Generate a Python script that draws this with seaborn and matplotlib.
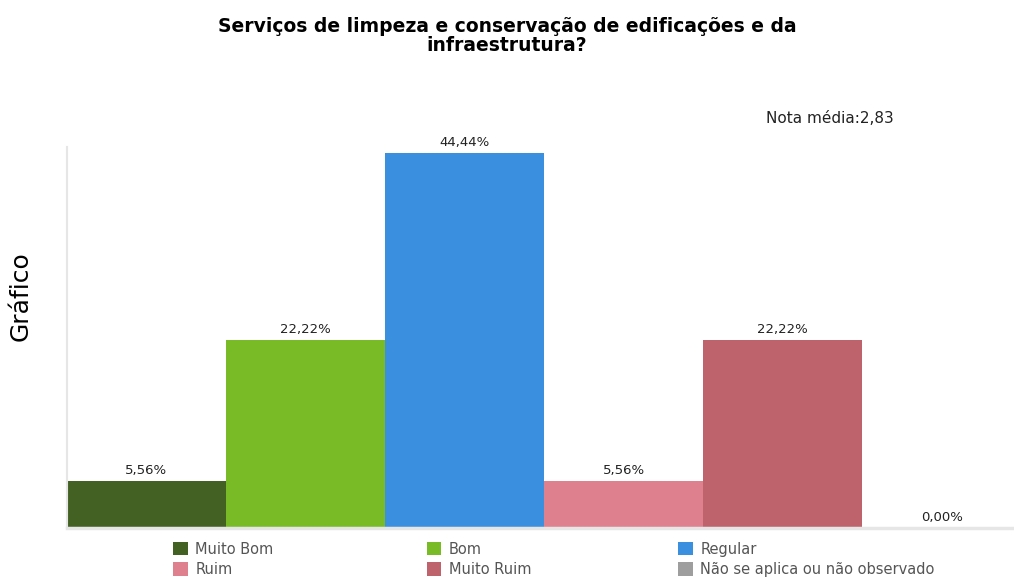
import matplotlib
matplotlib.use("Agg")
import matplotlib.pyplot as plt
from matplotlib.patches import Patch
import seaborn as sns
import pandas as pd

categorias = ["Muito Bom", "Bom", "Regular", "Ruim", "Muito Ruim",
              "Não se aplica ou não observado"]
percentuais = [5.56, 22.22, 44.44, 5.56, 22.22, 0.00]
cores = ["#436123", "#78bb27", "#3a90df", "#df808e", "#be626c", "#9e9e9e"]
titulo = "Serviços de limpeza e conservação de edificações e da\ninfraestrutura?"
nota_media = "Nota média:2,83"

df = pd.DataFrame({"categoria": categorias, "pct": percentuais})

sns.set_style("white")
plt.rcParams["font.family"] = ["DejaVu Sans"]

fig = plt.figure(figsize=(10.14, 5.78), dpi=100)
ax = fig.add_axes([0.066, 0.0865, 0.941, 0.659])

sns.barplot(data=df, x="categoria", y="pct", hue="categoria", palette=cores,
            width=1.0, dodge=False, legend=False, ax=ax, saturation=1,
            edgecolor="none")

for cont in ax.containers:
    ax.bar_label(cont, labels=[f"{v:.2f}%".replace(".", ",") for v in cont.datavalues],
                 padding=3, fontsize=9.5, color="#222222")

ax.set_xlim(-0.5, 5.5)
ax.set_ylim(0, 45.1)
ax.set_xticks([])
ax.set_yticks([])
ax.set_xlabel("")
ax.set_ylabel("Gráfico", fontsize=18, color="black")
ax.yaxis.set_label_coords(-0.0355, 0.61)
for s in ["top", "right"]:
    ax.spines[s].set_visible(False)
ax.spines["left"].set_color("#e6e6e6")
ax.spines["left"].set_linewidth(1.5)
ax.spines["bottom"].set_color("#e6e6e6")
ax.spines["bottom"].set_linewidth(2.5)

fig.text(0.5, 0.97, titulo, ha="center", va="top", fontsize=13.5,
         fontweight="bold", linespacing=0.95, color="black")
fig.text(0.755, 0.795, nota_media, ha="left", va="center", fontsize=11,
         color="#222222")

# legenda em tres colunas, cada uma com duas linhas
colunas_x = [0.158, 0.408, 0.656]
for k, x0 in enumerate(colunas_x):
    idx = [k, k + 3]
    leg = fig.legend([Patch(facecolor=cores[i], edgecolor="none") for i in idx],
                     [categorias[i] for i in idx],
                     loc="lower left", bbox_to_anchor=(x0, -0.021),
                     frameon=False, handlelength=1.0, handleheight=1.0,
                     labelspacing=0.35, handletextpad=0.5,
                     prop={"family": ["Liberation Sans Narrow", "DejaVu Sans"],
                           "size": 10.5})
    for t in leg.get_texts():
        t.set_color("#555555")

fig.savefig("out.png", dpi=100)
